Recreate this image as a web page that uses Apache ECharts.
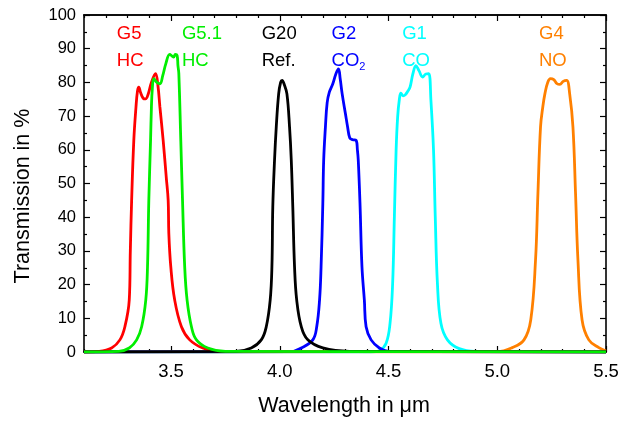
<!DOCTYPE html>
<html>
<head>
<meta charset="utf-8">
<script src="https://cdn.jsdelivr.net/npm/echarts@6/dist/echarts.min.js"></script>
<style>
  html, body { margin: 0; padding: 0; background: #fff; }
  #chart { width: 634px; height: 422px; }
</style>
</head>
<body>
<div id="chart"></div>
<script>
// filter transmission curves, [wavelength in um, transmission in %]
var g5 = [[3.1,0],[3.17,0.2],[3.227,1.2],[3.265,3.6],[3.288,7.5],[3.308,15.4],[3.313,30],[3.319,45],[3.329,62.8],[3.339,72.7],[3.346,77.5],[3.352,78.6],[3.36,77],[3.372,75.3],[3.383,75.1],[3.395,76.5],[3.41,80],[3.429,82.6],[3.44,79],[3.449,72.7],[3.464,62.8],[3.478,52],[3.487,45],[3.49,35.2],[3.499,25.3],[3.517,15.4],[3.548,7.5],[3.586,3.6],[3.646,1.2],[3.72,0.2],[5.5,0]];
var g51 = [[3.1,0],[3.26,0.2],[3.308,1.2],[3.342,3.6],[3.365,7.5],[3.384,15.4],[3.392,25.3],[3.398,45],[3.406,62.8],[3.41,72.7],[3.414,78],[3.421,81.1],[3.435,80],[3.449,79.6],[3.462,82],[3.476,85.5],[3.494,88.3],[3.505,87.8],[3.512,87.5],[3.52,88.3],[3.528,88],[3.532,85],[3.536,82.6],[3.545,62.8],[3.553,45],[3.563,25.3],[3.574,15.4],[3.594,7.5],[3.617,3.6],[3.669,1.2],[3.75,0.2],[5.5,0]];
var g20 = [[3.1,0],[3.8,0.2],[3.869,1.2],[3.915,3.6],[3.938,7.5],[3.956,15.4],[3.964,25.3],[3.968,43],[3.976,56.9],[3.984,66.8],[3.995,76.6],[4.004,80],[4.011,80.6],[4.02,79.5],[4.033,76.6],[4.045,66.8],[4.053,56.9],[4.06,43],[4.068,25.3],[4.078,15.4],[4.099,7.5],[4.129,3.6],[4.198,1.2],[4.32,0.2],[5.5,0]];
var g2 = [[3.1,0],[4.05,0.1],[4.099,1.2],[4.152,3.6],[4.17,7.5],[4.183,15.4],[4.19,25.3],[4.198,44],[4.202,56.9],[4.21,66.8],[4.218,74],[4.228,77.1],[4.244,79.6],[4.258,82.5],[4.27,84],[4.278,81],[4.287,76.6],[4.302,70.7],[4.312,66.8],[4.322,63.5],[4.335,63],[4.351,62.8],[4.357,60],[4.361,56.9],[4.369,44],[4.378,25.3],[4.389,15.4],[4.397,7.5],[4.42,3.6],[4.458,1.2],[4.5,0.2],[5.5,0]];
var g1 = [[3.1,0],[4.42,0],[4.458,0.4],[4.489,2.6],[4.507,8.5],[4.519,20.3],[4.527,40.1],[4.535,59.9],[4.542,69.7],[4.55,75],[4.557,76.8],[4.567,76],[4.577,76.3],[4.59,77.5],[4.599,78.6],[4.612,82.5],[4.626,85],[4.64,83.5],[4.657,81.6],[4.672,82.5],[4.685,82.6],[4.695,74.7],[4.707,59.9],[4.715,40.1],[4.725,20.3],[4.741,8.5],[4.771,3.6],[4.825,1],[4.9,0.2],[5.5,0]];
var g4 = [[3.1,0],[5.0,0.1],[5.069,1.3],[5.123,3.6],[5.154,9.5],[5.176,27.3],[5.187,47],[5.199,66.8],[5.21,73],[5.219,76.6],[5.232,80],[5.245,81.1],[5.26,80.8],[5.275,79.6],[5.288,79.4],[5.303,80.3],[5.319,80.6],[5.333,76.6],[5.348,66.8],[5.36,47],[5.371,27.3],[5.39,9.5],[5.421,3.6],[5.467,1.3],[5.5,0.3]];

// annotations above the peaks
var labelNames = ["G5", "G5.1", "G20", "G2", "G1", "G4"];
var labelGases = ["HC", "HC", "Ref.", "CO{sub|2}", "CO", "NO"];
var labelX = [3.251, 3.55, 3.917, 4.238, 4.563, 5.192];

var xMajorTicks = [3.5, 4.0, 4.5, 5.0, 5.5];
var xMinorTicks = [3.1, 3.2, 3.3, 3.4, 3.6, 3.7, 3.8, 3.9, 4.1, 4.2, 4.3, 4.4, 4.6, 4.7, 4.8, 4.9, 5.1, 5.2, 5.3, 5.4];

var colors = ["#ff0000", "#00ee00", "#000000", "#0000ff", "#00ffff", "#ff8000"];
var font = "Liberation Sans";

var myChart = echarts.init(document.getElementById("chart"));

function xAx(pos, ticks, len, withLabels) {
  return {
    type: "value", position: pos, min: 3.1, max: 5.5,
    axisLine: { show: true, onZero: false, lineStyle: { color: "#000", width: 1.6 } },
    axisTick: { show: true, inside: true, length: len, customValues: ticks, lineStyle: { color: "#000", width: 1.2 } },
    axisLabel: withLabels ? {
      show: true, customValues: ticks, margin: 10, fontSize: 18.5, color: "#000", fontFamily: font,
      formatter: function (v) { return v.toFixed(1); }
    } : { show: false },
    splitLine: { show: false }
  };
}

function yAx(pos, withLabels) {
  return {
    type: "value", position: pos, min: 0, max: 100, interval: 10,
    axisLine: { show: true, onZero: false, lineStyle: { color: "#000", width: 1.6 } },
    axisTick: { show: true, inside: true, length: 6, lineStyle: { color: "#000", width: 1.2 } },
    minorTick: { show: true, splitNumber: 2, length: 3, lineStyle: { color: "#000", width: 1.2 } },
    axisLabel: withLabels ? { show: true, margin: 8, fontSize: 16.5, color: "#000", fontFamily: font } : { show: false },
    splitLine: { show: false }
  };
}

var curves = [g5, g51, g20, g2, g1, g4];
var order = [4, 5, 3, 0, 2, 1];
var series = order.map(function (i) {
  return {
    type: "line", name: labelNames[i], data: curves[i], showSymbol: false,
    smooth: 0.4, xAxisIndex: 0, yAxisIndex: 0,
    lineStyle: { color: colors[i], width: 2.8 }, z: 2 + order.indexOf(i)
  };
});

var option = {
  animation: false,
  backgroundColor: "#fff",
  grid: { left: 84, right: 28, top: 15, bottom: 70 },
  xAxis: [
    xAx("bottom", xMajorTicks, 6, true),
    xAx("bottom", xMinorTicks, 3, false),
    xAx("top", xMajorTicks, 6, false),
    xAx("top", xMinorTicks, 3, false)
  ],
  yAxis: [yAx("left", true), yAx("right", false)],
  series: series
};
option && myChart.setOption(option);

// axis titles and the annotation texts
var graphics = [
  { type: "text", x: 344, y: 406, style: { text: "Wavelength in \u03bcm", fill: "#000", fontSize: 21.5, fontFamily: font, align: "center", verticalAlign: "middle" } },
  { type: "text", x: 23, y: 196, rotation: Math.PI / 2, style: { text: "Transmission in %", fill: "#000", fontSize: 21.5, fontFamily: font, align: "center", verticalAlign: "middle" } }
];
labelNames.forEach(function (nm, i) {
  var p1 = myChart.convertToPixel({ gridIndex: 0 }, [labelX[i], 94.5]);
  var p2 = myChart.convertToPixel({ gridIndex: 0 }, [labelX[i], 86.5]);
  graphics.push({
    type: "text", x: p1[0], y: p1[1],
    style: { text: nm, fill: colors[i], fontSize: 18.5, fontFamily: font, verticalAlign: "middle", align: "left" },
    z: 20
  });
  graphics.push({
    type: "text", x: p2[0], y: p2[1] - 12,
    style: {
      text: labelGases[i], fill: colors[i], fontSize: 18.5, fontFamily: font, lineHeight: 24,
      verticalAlign: "top", align: "left",
      rich: { sub: { fontSize: 11, fill: colors[i], fontFamily: font, verticalAlign: "bottom", lineHeight: 24 } }
    },
    z: 20
  });
});
myChart.setOption({ graphic: graphics });
</script>
</body>
</html>
